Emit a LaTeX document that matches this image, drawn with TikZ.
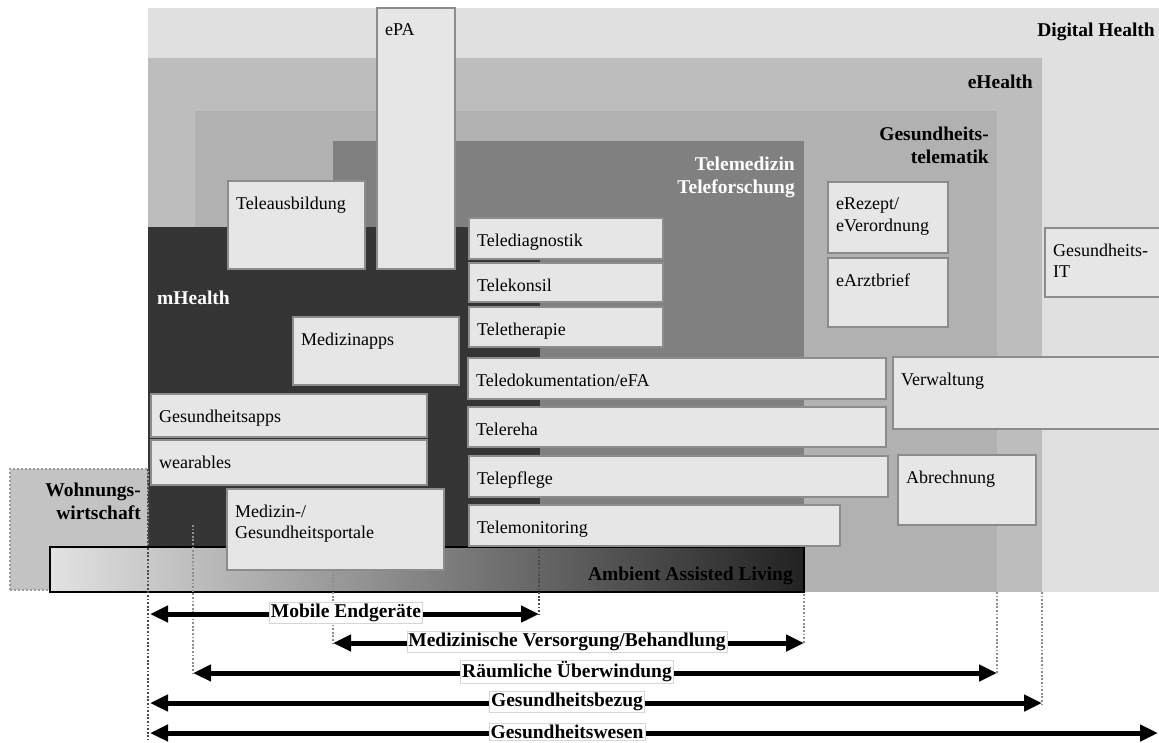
\documentclass[tikz,border=0pt]{standalone}
\usepackage{fontspec}
\setmainfont{Liberation Serif}
\usetikzlibrary{arrows.meta,fit}

\definecolor{dhgray}{HTML}{E0E0E0}
\definecolor{ehgray}{HTML}{BDBDBD}
\definecolor{gtgray}{HTML}{B1B1B1}
\definecolor{tmgray}{HTML}{808080}
\definecolor{mhgray}{HTML}{353535}
\definecolor{boxfill}{HTML}{E6E6E6}
\definecolor{boxline}{HTML}{8C8C8C}
\definecolor{wwgray}{HTML}{C3C3C3}
\definecolor{wwline}{HTML}{9A9A9A}
\definecolor{aalL}{HTML}{E2E2E2}
\definecolor{aalR}{HTML}{222222}
\definecolor{guidedark}{HTML}{4A4A4A}
\definecolor{guidegray}{HTML}{8E8E8E}
\definecolor{lblframe}{HTML}{D6D6D6}

% box with its caption set at the top left corner
\newcommand\infobox[6]{%
  \node[box, fit={(#2,#3)(#4,#5)}] (#1) {};
  \node[boxtxt] (#1-t) at ([shift={(8pt,-15.5pt)}]#1.north west) {#6};}

\begin{document}
\begin{tikzpicture}[x=1pt,y=-1pt,
  region/.style={inner sep=0pt, outer sep=0pt, draw=none},
  box/.style={inner sep=0pt, outer sep=0pt, fill=boxfill, draw=boxline, line width=1.1pt},
  boxtxt/.style={anchor=north west, inner sep=0pt, align=left,
    font=\fontsize{18}{21.5}\selectfont},
  rlbl/.style={inner sep=0pt, font=\fontsize{19.5}{23}\selectfont\bfseries},
  guide/.style={draw=#1, line width=1.8pt, dash pattern=on 1.8pt off 1.8pt},
  dim/.style={line width=5pt, {Triangle[length=18pt,width=16pt]}-{Triangle[length=18pt,width=16pt]}},
  dimlbl/.style={fill=white, draw=lblframe, line width=0.6pt, inner xsep=1.5pt, inner ysep=1.5pt,
    font=\fontsize{19.5}{23}\selectfont\bfseries}
]
\useasboundingbox (0,0) rectangle (1159,742);

% nested areas
\node[region, fill=dhgray, fit={(148,8)(1165,592)}] (dh) {};
\node[region, fill=ehgray, fit={(148,58)(1042,592)}] (eh) {};
\node[region, fill=gtgray, fit={(195,111)(997,592)}] (gt) {};
\node[region, fill=tmgray, fit={(333,141)(804,592)}] (tm) {};
\node[region, fill=mhgray, fit={(148,227)(540,592)}] (mh) {};

\node[rlbl, anchor=east] (dh-l) at (1155,32) {Digital Health};
\node[rlbl, anchor=east] (eh-l) at (1033,82) {eHealth};
\node[rlbl, anchor=north east, align=right] (gt-l) at (989,127) {Gesundheits-\\telematik};
\node[rlbl, anchor=north east, align=right, text=white] (tm-l) at (795,157) {Telemedizin\\Teleforschung};
\node[rlbl, anchor=west, text=white] (mh-l) at (157,298) {mHealth};

% housing sector
\node[region, fill=wwgray, draw=wwline, line width=2pt, dash pattern=on 2pt off 2pt,
  fit={(10,469)(148,590)}] (ww) {};
\node[rlbl, anchor=north east, align=right] (ww-l) at (141,483) {Wohnungs-\\wirtschaft};

% ambient assisted living bar
\node[inner sep=0pt, outer sep=0pt, left color=aalL, right color=aalR, draw=black, line width=2.5pt,
  fit={(50,547)(804,592)}] (aal) {};
\node[rlbl, anchor=base east] (aal-l) at (793,580) {Ambient Assisted Living};

% guide lines down to the range arrows
\coordinate (g1a) at (148,469);  \coordinate (g1b) at (148,740);
\coordinate (g2a) at (193,525);  \coordinate (g2b) at (193,674);
\coordinate (g3a) at (333,549);  \coordinate (g3b) at (333,644);
\coordinate (g4a) at (539,549);  \coordinate (g4b) at (539,615);
\coordinate (g5a) at (804,594);  \coordinate (g5b) at (804,644);
\coordinate (g6a) at (997,592);  \coordinate (g6b) at (997,674);
\coordinate (g7a) at (1042,592); \coordinate (g7b) at (1042,704);
\draw[guide=guidedark] (g1a) -- (g1b);
\draw[guide=guidegray] (g2a) -- (g2b);
\draw[guide=guidegray] (g3a) -- (g3b);
\draw[guide=guidedark] (g4a) -- (g4b);
\draw[guide=guidegray] (g5a) -- (g5b);
\draw[guide=guidegray] (g6a) -- (g6b);
\draw[guide=guidegray] (g7a) -- (g7b);

% application boxes
\infobox{epa}{377}{8}{455}{269}{ePA}
\infobox{teleaus}{228}{181}{365}{269}{Teleausbildung}
\infobox{tdiag}{469}{218}{663}{259}{Telediagnostik}
\infobox{tkons}{469}{263}{663}{302}{Telekonsil}
\infobox{tther}{469}{307}{663}{347}{Teletherapie}
\infobox{tdoku}{468}{358}{886}{399}{Teledokumentation/eFA}
\infobox{treha}{468}{407}{886}{447}{Telereha}
\infobox{tpfl}{469}{456}{888}{497}{Telepflege}
\infobox{tmon}{469}{505}{840}{546}{Telemonitoring}
\infobox{erez}{828}{182}{948}{253}{eRezept/\\eVerordnung}
\infobox{earzt}{828}{258}{948}{327}{eArztbrief}
\infobox{gesit}{1045}{228}{1170}{297}{Gesundheits-\\IT}
\infobox{verw}{893}{357}{1170}{429}{Verwaltung}
\infobox{abr}{898}{455}{1036}{525}{Abrechnung}
\infobox{medapps}{293}{317}{459}{385}{Medizinapps}
\infobox{gapps}{151}{394}{427}{437}{Gesundheitsapps}
\infobox{wear}{151}{440}{427}{485}{wearables}
\infobox{portale}{227}{489}{444}{570}{Medizin-/\\Gesundheitsportale}

% range arrows
\coordinate (a1l) at (150,614);  \coordinate (a1r) at (539,614);
\coordinate (a2l) at (333,643);  \coordinate (a2r) at (804,643);
\coordinate (a3l) at (193,673);  \coordinate (a3r) at (997,673);
\coordinate (a4l) at (150,703);  \coordinate (a4r) at (1042,703);
\coordinate (a5l) at (150,733);  \coordinate (a5r) at (1158,733);
\draw[dim] (a1l) -- (a1r);
\draw[dim] (a2l) -- (a2r);
\draw[dim] (a3l) -- (a3r);
\draw[dim] (a4l) -- (a4r);
\draw[dim] (a5l) -- (a5r);
\node[dimlbl] (a1-l) at (346,613) {Mobile Endgeräte};
\node[dimlbl] (a2-l) at (567,642) {Medizinische Versorgung/Behandlung};
\node[dimlbl] (a3-l) at (567,672) {Räumliche Überwindung};
\node[dimlbl] (a4-l) at (567,702) {Gesundheitsbezug};
\node[dimlbl] (a5-l) at (567,732) {Gesundheitswesen};
\end{tikzpicture}
\end{document}
